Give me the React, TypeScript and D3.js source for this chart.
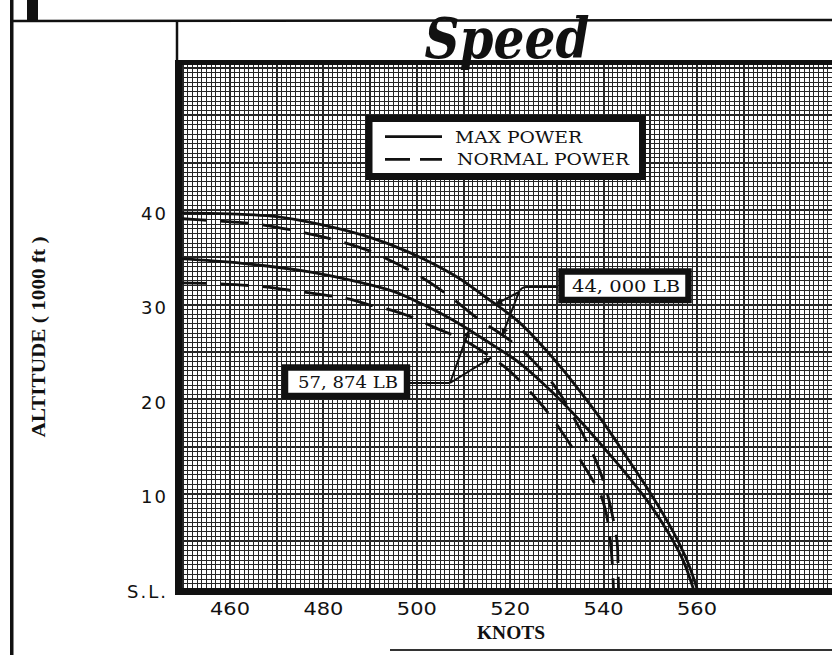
import React, { useEffect, useRef } from "react";
import * as d3 from "d3";

const W = 832, H = 655;

// axis ticks
const knotTicks = [460, 480, 500, 520, 540, 560];
const altTicks = [0, 10, 20, 30, 40];
const altTickLabels = ["S.L.", "10", "20", "30", "40"];

// 44,000 LB - max power (solid)
const max44Speed = [449, 460, 470, 480, 490, 498, 508, 515, 522, 528, 534, 540, 545, 550, 555, 558, 560];
const max44Alt = [39.7, 39.6, 39.3, 38.4, 37.1, 35.6, 33.1, 30.7, 28.1, 25.0, 21.45, 17.5, 13.85, 10.1, 5.9, 2.8, 0];

// 44,000 LB - normal power (dashed)
const norm44Speed = [449, 457, 466, 475, 482, 490, 495, 501, 507, 513, 520, 525, 530, 534, 536, 538.6, 540.8, 542, 542.9, 543.1, 543.2];
const norm44Alt = [39.1, 38.85, 38.5, 37.7, 36.9, 35.65, 34.5, 32.9, 30.9, 28.55, 26.2, 24.0, 21.05, 17.7, 15.9, 13.2, 10.0, 7.45, 4.9, 1.9, 0];

// 57,874 LB - max power (solid)
const max57Speed = [449, 462.6, 476.7, 487.4, 495, 501.8, 507.8, 515.1, 522.1, 529.2, 535, 540.8, 545, 550, 554, 557, 559.2];
const max57Alt = [34.86, 34.37, 33.48, 32.4, 31.4, 29.9, 28.35, 26.1, 23.8, 20.66, 17.7, 14.45, 12.0, 8.83, 5.77, 3.0, 0];

// 57,874 LB - normal power (dashed)
const norm57Speed = [449, 457.4, 466.9, 474.6, 480.4, 484.6, 490.4, 494.7, 499.6, 503.5, 509.9, 513.6, 519.6, 526.4, 530, 534, 537, 539.3, 540.6, 541.4, 541.9, 542.1];
const norm57Alt = [32.3, 32.2, 31.9, 31.4, 31.0, 30.7, 29.9, 29.4, 28.55, 27.65, 26.3, 25.2, 23.1, 19.6, 17.3, 14.35, 12.0, 10.0, 7.85, 5.2, 2.4, 0];

const legendItems = ["MAX POWER", "NORMAL POWER"];
const weightLabels = ["44, 000 LB", "57, 874 LB"];
// speeds where the weight arrows touch their curves
const arrowSpeeds44 = [516.8, 518.3];
const arrowSpeeds57 = [511.2, 515.9];

const altAt = (speeds: number[], alts: number[], s: number) => {
  const i = Math.max(1, d3.bisectLeft(speeds, s));
  const t = (s - speeds[i - 1]) / (speeds[i] - speeds[i - 1]);
  return alts[i - 1] + t * (alts[i] - alts[i - 1]);
};

const App = () => {
  const ref = useRef<SVGSVGElement>(null);

  useEffect(() => {
    const svg = d3.select(ref.current);
    svg.selectAll("*").remove();

    const x = d3.scaleLinear().domain([460, 560]).range([230, 697]);
    const y = d3.scaleLinear().domain([0, 40]).range([588.5, 210]);
    const left = 178, top = 62, right = 840, bottom = 589;

    svg.append("rect").attr("width", W).attr("height", H).attr("fill", "#fff");

    const defs = svg.append("defs");
    defs.append("clipPath").attr("id", "plotClip")
      .append("rect").attr("x", left).attr("y", top).attr("width", right - left).attr("height", bottom - top);
    defs.append("marker").attr("id", "arrow").attr("viewBox", "0 0 10 10")
      .attr("refX", 10).attr("refY", 5).attr("markerWidth", 10).attr("markerHeight", 7)
      .attr("markerUnits", "userSpaceOnUse").attr("orient", "auto")
      .append("path").attr("d", "M0,0L10,5L0,10z").attr("fill", "#111");

    // frame lines of the page
    svg.append("rect").attr("x", 10).attr("y", 0).attr("width", 3.5).attr("height", H).attr("fill", "#111");
    svg.append("rect").attr("x", 27).attr("y", 0).attr("width", 11).attr("height", 21).attr("fill", "#111");
    svg.append("line").attr("x1", 10).attr("x2", W).attr("y1", 21).attr("y2", 20)
      .attr("stroke", "#111").attr("stroke-width", 2.5);
    svg.append("line").attr("x1", 177).attr("x2", 177).attr("y1", 20).attr("y2", top)
      .attr("stroke", "#111").attr("stroke-width", 2.5);
    svg.append("line").attr("x1", 390).attr("x2", W).attr("y1", 650).attr("y2", 650)
      .attr("stroke", "#333").attr("stroke-width", 2);

    // graph paper
    const grid = svg.append("g").attr("clip-path", "url(#plotClip)").attr("shape-rendering", "crispEdges");
    grid.selectAll("line.v").data(d3.range(449, 592)).enter().append("line")
      .attr("x1", (d) => x(d)).attr("x2", (d) => x(d)).attr("y1", top).attr("y2", bottom)
      .attr("stroke", "#262626").attr("stroke-width", (d) => (d % 10 === 0 ? 2 : 1));
    grid.selectAll("line.h").data(d3.range(0, 58, 0.5)).enter().append("line")
      .attr("y1", (d) => y(d)).attr("y2", (d) => y(d)).attr("x1", left).attr("x2", right)
      .attr("stroke", "#262626").attr("stroke-width", (d) => (d % 5 === 0 ? 2 : 1));

    // heavy plot borders
    svg.append("rect").attr("x", 175).attr("y", top - 2).attr("width", right - 175).attr("height", 5).attr("fill", "#111");
    svg.append("rect").attr("x", 175).attr("y", top - 2).attr("width", 7).attr("height", bottom - top + 8).attr("fill", "#111");
    svg.append("rect").attr("x", 175).attr("y", bottom - 1).attr("width", right - 175).attr("height", 7).attr("fill", "#111");

    // curves
    const line = d3.line<[number, number]>()
      .x((d) => x(d[0])).y((d) => y(d[1]))
      .curve(d3.curveCatmullRom.alpha(0.5));
    const series = [
      { s: max44Speed, a: max44Alt, dash: null },
      { s: norm44Speed, a: norm44Alt, dash: "28 14" },
      { s: max57Speed, a: max57Alt, dash: null },
      { s: norm57Speed, a: norm57Alt, dash: "28 14" },
    ];
    const curves = svg.append("g").attr("clip-path", "url(#plotClip)");
    series.forEach((sr) => {
      curves.append("path")
        .attr("d", line(sr.s.map((v, i) => [v, sr.a[i]] as [number, number])))
        .attr("fill", "none").attr("stroke", "#111").attr("stroke-width", 2.8)
        .attr("stroke-dasharray", sr.dash);
    });

    // title
    svg.append("text").attr("x", 507).attr("y", 58).attr("text-anchor", "middle")
      .attr("textLength", 165).attr("lengthAdjust", "spacingAndGlyphs")
      .style("font-family", "'DejaVu Serif', serif").style("font-weight", "bold")
      .style("font-style", "italic").style("font-size", "56px").attr("fill", "#111")
      .text("Speed");

    // axis tick labels
    svg.selectAll("text.xt").data(knotTicks).enter().append("text")
      .attr("x", (d) => x(d)).attr("y", 615).attr("text-anchor", "middle")
      .attr("textLength", 40).attr("lengthAdjust", "spacingAndGlyphs")
      .style("font-family", "'DejaVu Sans', sans-serif").style("font-size", "18px").attr("fill", "#111")
      .text((d) => d);
    svg.selectAll("text.yt").data(altTicks).enter().append("text")
      .attr("x", 168).attr("y", (d) => (d === 0 ? 598 : y(d) + 9.5)).attr("text-anchor", "end")
      .style("font-family", "'DejaVu Sans', sans-serif").style("font-size", "18px")
      .style("letter-spacing", "2px").attr("fill", "#111")
      .text((d, i) => altTickLabels[i]);

    svg.append("text").attr("x", 511).attr("y", 639).attr("text-anchor", "middle")
      .attr("textLength", 68).attr("lengthAdjust", "spacingAndGlyphs")
      .style("font-family", "'Liberation Serif', serif").style("font-weight", "bold")
      .style("font-size", "19px").attr("fill", "#111").text("KNOTS");
    svg.append("text").attr("transform", "translate(45,337) rotate(-90)").attr("text-anchor", "middle")
      .attr("textLength", 201).attr("lengthAdjust", "spacingAndGlyphs")
      .style("font-family", "'Liberation Serif', serif").style("font-weight", "bold")
      .style("font-size", "19px").attr("fill", "#111").text("ALTITUDE ( 1000 ft )");

    // legend
    const lg = svg.append("g");
    lg.append("rect").attr("x", 369).attr("y", 118.5).attr("width", 273.5).attr("height", 58)
      .attr("fill", "#fff").attr("stroke", "#111").attr("stroke-width", 7);
    lg.append("line").attr("x1", 385).attr("x2", 442).attr("y1", 136.7).attr("y2", 136.7)
      .attr("stroke", "#111").attr("stroke-width", 2.7);
    lg.append("line").attr("x1", 385).attr("x2", 442).attr("y1", 159.3).attr("y2", 159.3)
      .attr("stroke", "#111").attr("stroke-width", 2.7).attr("stroke-dasharray", "25 10");
    [[455, 143.3, 127], [457, 165, 172]].forEach((p, i) => {
      lg.append("text").attr("x", p[0]).attr("y", p[1]).attr("textLength", p[2])
        .attr("lengthAdjust", "spacingAndGlyphs")
        .style("font-family", "'DejaVu Serif', serif").style("font-size", "16px")
        .attr("fill", "#111").text(legendItems[i]);
    });

    // weight labels with leader arrows
    const tip44 = [
      [x(arrowSpeeds44[0]), y(altAt(max44Speed, max44Alt, arrowSpeeds44[0]))],
      [x(arrowSpeeds44[1]), y(altAt(norm44Speed, norm44Alt, arrowSpeeds44[1]))],
    ];
    const tip57 = [
      [x(arrowSpeeds57[0]), y(altAt(max57Speed, max57Alt, arrowSpeeds57[0]))],
      [x(arrowSpeeds57[1]), y(altAt(norm57Speed, norm57Alt, arrowSpeeds57[1]))],
    ];
    const leaders = svg.append("g").attr("fill", "none").attr("stroke", "#111").attr("stroke-width", 2);
    leaders.append("path").attr("d", "M558,287H527Q521,287,519,292");
    tip44.forEach((t) => leaders.append("path").attr("d", `M519,292L${t[0]},${t[1]}`).attr("marker-end", "url(#arrow)"));
    leaders.append("path").attr("d", "M410,383H450");
    tip57.forEach((t) => leaders.append("path").attr("d", `M450,383L${t[0]},${t[1]}`).attr("marker-end", "url(#arrow)"));

    const boxes = [
      { bx: 561.5, by: 271.5, bw: 127, bh: 28.5, tx: 572, ty: 292, tl: 108 },
      { bx: 285, by: 367.5, bw: 122, bh: 28.5, tx: 298, ty: 388, tl: 100 },
    ];
    boxes.forEach((b, i) => {
      svg.append("rect").attr("x", b.bx).attr("y", b.by).attr("width", b.bw).attr("height", b.bh)
        .attr("fill", "#fff").attr("stroke", "#111").attr("stroke-width", 6.5);
      svg.append("text").attr("x", b.tx).attr("y", b.ty).attr("textLength", b.tl)
        .attr("lengthAdjust", "spacingAndGlyphs")
        .style("font-family", "'DejaVu Serif', serif").style("font-size", "17px")
        .attr("fill", "#111").text(weightLabels[i]);
    });
  }, []);

  return (
    <svg ref={ref} width={W} height={H} style={{ position: "absolute", left: 0, top: 0 }} />
  );
};

export default App;
